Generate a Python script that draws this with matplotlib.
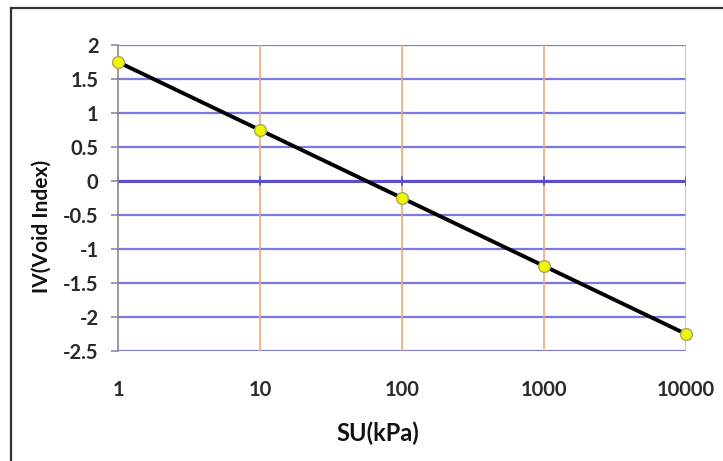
import numpy as np
import matplotlib.pyplot as plt
from matplotlib.lines import Line2D

# data
su_kpa = [1, 10, 100, 1000, 10000]
void_index = [1.75, 0.75, -0.25, -1.25, -2.25]
y_ticks = [2, 1.5, 1, 0.5, 0, -0.5, -1, -1.5, -2, -2.5]
y_tick_labels = ['2', '1.5', '1', '0.5', '0', '-0.5', '-1', '-1.5', '-2', '-2.5']
x_tick_labels = ['1', '10', '100', '1000', '10000']

plt.rcParams['font.family'] = ['Lato', 'DejaVu Sans']

W, H = 723, 461
fig = plt.figure(figsize=(W / 100, H / 100), dpi=100)
ax = fig.add_axes([118 / W, 1 - 351 / H, (686 - 118) / W, (351 - 45) / H])

ax.set_xscale('log')
ax.set_xlim(1, 10000)
ax.set_ylim(-2.5, 2)

# grid lines
for y in y_ticks:
    ax.axhline(y, color='#7b78e4', lw=1.6, zorder=1)
for x in su_kpa[1:]:
    ax.axvline(x, color='#f2a878', lw=1.2, zorder=1)
ax.axhline(0, color='#5a4fd0', lw=2.2, zorder=2)

for s in ax.spines.values():
    s.set_visible(False)
ax.spines['left'].set_visible(True)
ax.spines['left'].set_color('#8a8a8a')
ax.spines['left'].set_linewidth(1.2)

ax.plot(su_kpa, void_index, color='black', lw=2.8, zorder=3,
        marker='o', markersize=8.5, markerfacecolor='#f0f500',
        markeredgecolor='#a8a860', markeredgewidth=1.0, clip_on=False)

ax.set_yticks(y_ticks)
ax.set_yticklabels(y_tick_labels)
ax.set_xticks(su_kpa)
ax.set_xticklabels(x_tick_labels)
ax.xaxis.set_minor_locator(plt.NullLocator())
ax.tick_params(axis='y', length=5, color='#8a8aa0', width=1.2, pad=9,
               labelsize=14.5, labelcolor='#2a2a2a')
ax.tick_params(axis='x', length=0, pad=21, labelsize=14.5, labelcolor='#2a2a2a')
for t in ax.get_xticklabels() + ax.get_yticklabels():
    t.set_fontweight('bold')

# tick marks on the zero axis
for x in su_kpa:
    ax.plot([x, x], [-0.06, 0.06], color='#5a4fd0', lw=1.2, zorder=2)

fig.text(378 / W, 1 - 433 / H, 'SU(kPa)', ha='center', va='center',
         fontsize=17, fontweight='bold', color='#111111')
fig.text(42 / W, 1 - 226 / H, 'IV(Void Index)', ha='center', va='center',
         rotation=90, fontsize=15, fontweight='bold', color='#111111')

# outer frame (left and top edges only visible)
fig.add_artist(Line2D([11 / W, 11 / W], [0, 1 - 8 / H], color='#333333', lw=1.6,
                      transform=fig.transFigure))
fig.add_artist(Line2D([11 / W, 1], [1 - 8 / H, 1 - 8 / H], color='#333333', lw=1.6,
                      transform=fig.transFigure))

fig.savefig('out.png', dpi=100)
